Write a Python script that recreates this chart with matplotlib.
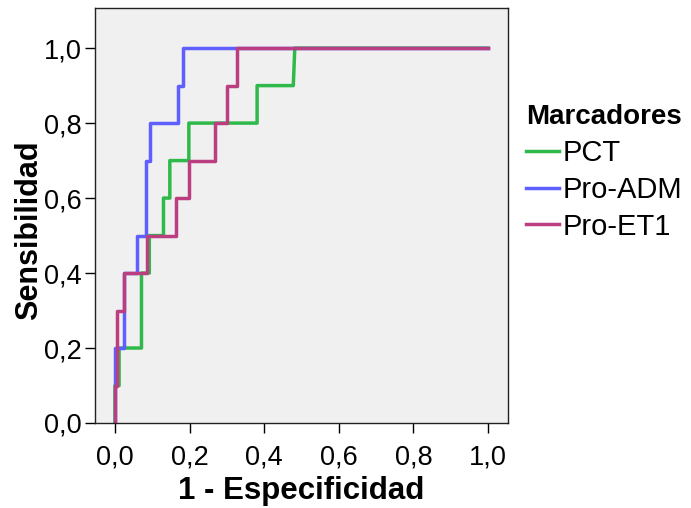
import matplotlib
matplotlib.use("Agg")
import matplotlib.pyplot as plt

plt.rcParams['font.family'] = ['Liberation Sans', 'DejaVu Sans']

# ROC curves (1 - especificidad, sensibilidad)
pct_x = [0.0, 0.0, 0.011, 0.011, 0.071, 0.071, 0.092, 0.092, 0.130, 0.130, 0.147, 0.147, 0.198, 0.198, 0.381, 0.381, 0.478, 0.482, 1.0]
pct_y = [0.0, 0.1, 0.1, 0.2, 0.2, 0.4, 0.4, 0.5, 0.5, 0.6, 0.6, 0.7, 0.7, 0.8, 0.8, 0.9, 0.9, 1.0, 1.0]

adm_x = [0.0, 0.0, 0.025, 0.025, 0.058, 0.058, 0.082, 0.082, 0.094, 0.094, 0.170, 0.170, 0.183, 0.183, 1.0]
adm_y = [0.0, 0.2, 0.2, 0.4, 0.4, 0.5, 0.5, 0.7, 0.7, 0.8, 0.8, 0.9, 0.9, 1.0, 1.0]

et1_x = [0.0, 0.0, 0.005, 0.005, 0.025, 0.025, 0.085, 0.085, 0.164, 0.164, 0.199, 0.199, 0.268, 0.268, 0.299, 0.299, 0.328, 0.328, 1.0]
et1_y = [0.0, 0.1, 0.1, 0.3, 0.3, 0.4, 0.4, 0.5, 0.5, 0.6, 0.6, 0.7, 0.7, 0.8, 0.8, 0.9, 0.9, 1.0, 1.0]

ticks = [0.0, 0.2, 0.4, 0.6, 0.8, 1.0]
tick_labels = ["0,0", "0,2", "0,4", "0,6", "0,8", "1,0"]

fig = plt.figure(figsize=(6.91, 5.08), dpi=100)
W, H = 691, 508
ax = fig.add_axes([95 / W, 1 - 423 / H, (508 - 95) / W, (423 - 8) / H])
ax.set_facecolor('#f0f0f0')

ax.plot(pct_x, pct_y, color='#2fb94a', lw=2.5, label='PCT')
ax.plot(adm_x, adm_y, color='#5f5fff', lw=2.5, label='Pro-ADM')
ax.plot(et1_x, et1_y, color='#bb3f80', lw=2.5, label='Pro-ET1')

ax.set_xlim(-0.0536, 1.0536)
ax.set_ylim(0, 1.107)
ax.set_xticks(ticks)
ax.set_xticklabels(tick_labels)
ax.set_yticks(ticks)
ax.set_yticklabels(tick_labels)
ax.tick_params(length=7.5, width=1, labelsize=19.5)
ax.tick_params(axis='x', pad=8)
ax.tick_params(axis='y', pad=2)
for s in ax.spines.values():
    s.set_linewidth(1)
    s.set_color('#222222')

ax.set_xlabel('1 - Especificidad', fontsize=22.5, fontweight='bold', labelpad=4)
ax.set_ylabel('Sensibilidad', fontsize=22, fontweight='bold')
ax.yaxis.set_label_coords(-0.124, 0.465)

leg = fig.legend(loc='upper left', bbox_to_anchor=(506 / W, 1 - 84 / H),
                 title='Marcadores', frameon=False, fontsize=21,
                 handlelength=1.1, handletextpad=0.15, labelspacing=0.3,
                 borderpad=0.2)
leg.get_title().set_fontweight('bold')
leg.get_title().set_fontsize(20)
leg._legend_box.align = 'left'

fig.savefig('out.png', dpi=100)
